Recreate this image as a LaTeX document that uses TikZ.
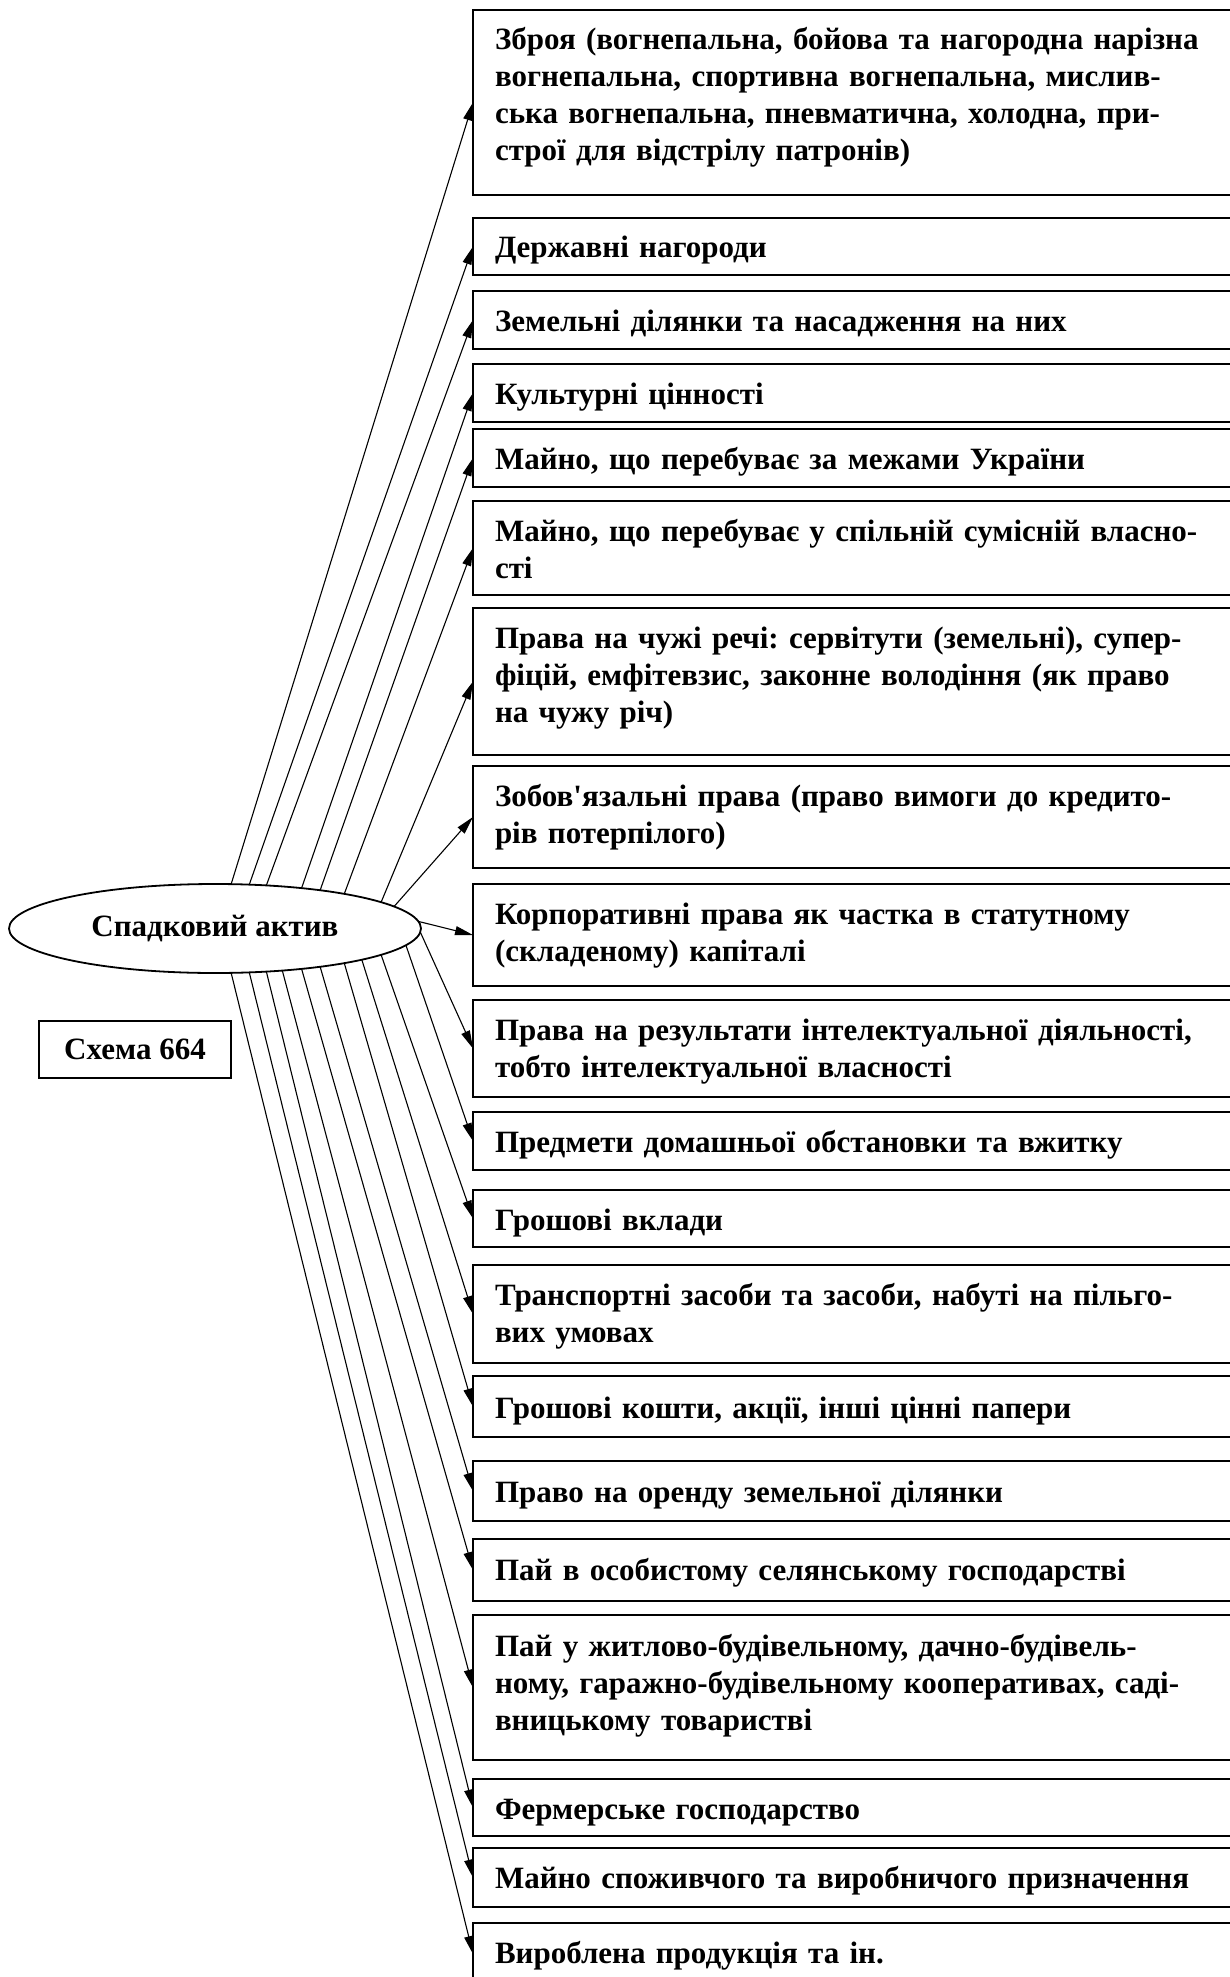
\documentclass[tikz,border=0pt]{standalone}
\usepackage{fontspec}
\setmainfont{Liberation Serif}
\usetikzlibrary{arrows.meta,shapes.geometric}
\frenchspacing
\tikzset{
  box/.style={draw, line width=1.8pt, rectangle, minimum width=790pt, anchor=north west, inner sep=0pt, outer sep=0pt},
  lbl/.style={anchor=base west, inner sep=0pt, outer sep=0pt, text width=745pt, align=left, font=\fontsize{31}{37}\selectfont\bfseries},
  arr/.style={line width=1.1pt, -{Triangle[length=18pt,width=9pt]}},
}
\begin{document}
\begin{tikzpicture}[x=1pt,y=-1pt]
\fill[white] (0,0) rectangle (1229,1977);
\useasboundingbox (0,0) rectangle (1229,1977);

\node[ellipse, draw, line width=1.8pt, minimum width=412pt, minimum height=89pt, inner sep=0pt, outer sep=0pt, font=\fontsize{31}{37}\selectfont\bfseries] (ell) at (215,928.5) {Спадковий актив};
\node[draw, line width=1.8pt, minimum width=192pt, minimum height=57pt, inner sep=0pt, outer sep=0pt, font=\fontsize{31}{37}\selectfont\bfseries] (sch) at (135,1049.5) {Схема 664};

% boxes
\node[box, minimum height=185pt] (b1) at (473,10) {};
\node[lbl] (t1) at (495,50) {Зброя (вогнепальна, бойова та нагородна нарізна\\вогнепальна, спортивна вогнепальна, мислив-\\ська вогнепальна, пневматична, холодна, при-\\строї для відстрілу патронів)};
\node[box, minimum height=57pt] (b2) at (473,218) {};
\node[lbl] (t2) at (495,258) {Державні нагороди};
\node[box, minimum height=58pt] (b3) at (473,291) {};
\node[lbl] (t3) at (495,331) {Земельні ділянки та насадження на них};
\node[box, minimum height=58pt] (b4) at (473,364) {};
\node[lbl] (t4) at (495,404) {Культурні цінності};
\node[box, minimum height=58pt] (b5) at (473,429) {};
\node[lbl] (t5) at (495,469) {Майно, що перебуває за межами України};
\node[box, minimum height=94pt] (b6) at (473,501) {};
\node[lbl] (t6) at (495,541) {Майно, що перебуває у спільній сумісній власно-\\сті};
\node[box, minimum height=147pt] (b7) at (473,608) {};
\node[lbl] (t7) at (495,648) {Права на чужі речі: сервітути (земельні), супер-\\фіцій, емфітевзис, законне володіння (як право\\на чужу річ)};
\node[box, minimum height=102pt] (b8) at (473,766) {};
\node[lbl] (t8) at (495,806) {Зобов\textquotesingle язальні права (право вимоги до кредито-\\рів потерпілого)};
\node[box, minimum height=102pt] (b9) at (473,884) {};
\node[lbl] (t9) at (495,924) {Корпоративні права як частка в статутному\\(складеному) капіталі};
\node[box, minimum height=97pt] (b10) at (473,1000) {};
\node[lbl] (t10) at (495,1040) {Права на результати інтелектуальної діяльності,\\тобто інтелектуальної власності};
\node[box, minimum height=58pt] (b11) at (473,1112) {};
\node[lbl] (t11) at (495,1152) {Предмети домашньої обстановки та вжитку};
\node[box, minimum height=57pt] (b12) at (473,1190) {};
\node[lbl] (t12) at (495,1230) {Грошові вклади};
\node[box, minimum height=98pt] (b13) at (473,1265) {};
\node[lbl] (t13) at (495,1305) {Транспортні засоби та засоби, набуті на пільго-\\вих умовах};
\node[box, minimum height=61pt] (b14) at (473,1376) {};
\node[lbl] (t14) at (495,1418) {Грошові кошти, акції, інші цінні папери};
\node[box, minimum height=60pt] (b15) at (473,1461) {};
\node[lbl] (t15) at (495,1502) {Право на оренду земельної ділянки};
\node[box, minimum height=62pt] (b16) at (473,1539) {};
\node[lbl] (t16) at (495,1580) {Пай в особистому селянському господарстві};
\node[box, minimum height=145pt] (b17) at (473,1615) {};
\node[lbl] (t17) at (495,1656) {Пай у житлово-будівельному, дачно-будівель-\\ному, гаражно-будівельному кооперативах, саді-\\вницькому товаристві};
\node[box, minimum height=57pt] (b18) at (473,1779) {};
\node[lbl] (t18) at (495,1819) {Фермерське господарство};
\node[box, minimum height=59pt] (b19) at (473,1848) {};
\node[lbl] (t19) at (495,1888) {Майно споживчого та виробничого призначення};
\node[box, minimum height=62pt] (b20) at (473,1923) {};
\node[lbl] (t20) at (495,1963) {Вироблена продукція та ін.};

% arrows up
\draw[arr] (ell.70) -- (b1.west);
\draw[arr] (ell.52) -- (b2.west);
\draw[arr] (ell.40) -- (b3.west);
\draw[arr] (ell.25) -- (b4.west);
\draw[arr] (ell.20) -- (b5.west);
\draw[arr] (ell.15) -- (b6.west);
\draw[arr] (ell.9) -- (b7.west);
\draw[arr] (ell.7) -- (b8.west);
\draw[arr] (ell.2) -- (b9.west);
% arrows down
\draw[arr] (ell.-1) -- (b10.west);
\draw[arr] (ell.-5) -- (b11.west);
\draw[arr] (ell.-9) -- (b12.west);
\draw[arr] (ell.-12) -- (b13.west);
\draw[arr] (ell.-15) -- (b14.west);
\draw[arr] (ell.-20) -- (b15.west);
\draw[arr] (ell.-25) -- (b16.west);
\draw[arr] (ell.-32) -- (b17.west);
\draw[arr] (ell.-40) -- (b18.west);
\draw[arr] (ell.-52) -- (b19.west);
\draw[arr] (ell.-70) -- (b20.west);
\end{tikzpicture}
\end{document}
